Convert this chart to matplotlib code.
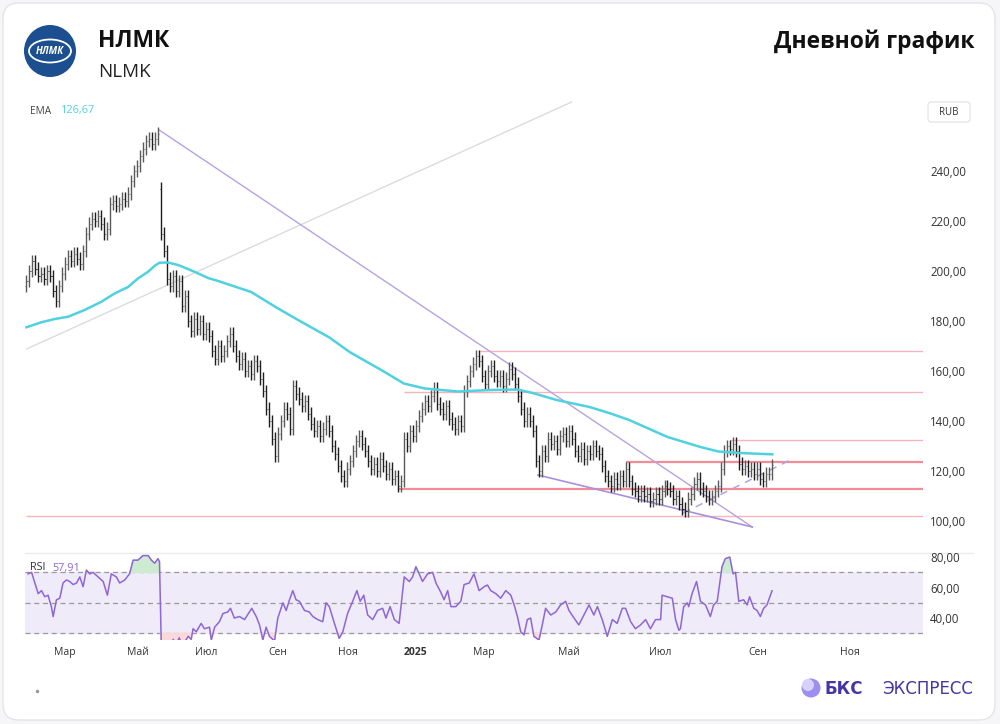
import matplotlib
matplotlib.use("Agg")
import matplotlib.pyplot as plt
import numpy as np
from matplotlib.patches import Circle, Ellipse, FancyBboxPatch

plt.rcParams['font.family'] = ['Open Sans', 'DejaVu Sans']

# --- data (one bar per ~2 trading days) ---
closes = [196, 200, 204, 201, 198, 199, 197, 200, 198, 192, 188, 194,
          199, 203, 206, 204, 207, 205, 203, 208,
          215, 219, 221, 220, 222, 219, 215, 217,
          227, 228, 226, 227, 229, 228, 231,
          236, 240, 242, 246, 249, 252, 253, 251, 253, 255,
          215, 208, 197, 194, 198, 192, 196, 186, 190, 180,
          176, 181, 177, 180, 175, 177, 174, 168, 165, 170,
          166, 168, 172, 175, 170, 166, 163, 165, 160, 162,
          159, 164, 162, 157, 152, 145, 140, 133, 126, 135,
          140, 145, 143, 137, 154, 151, 149, 146, 148, 143,
          139, 136, 138, 134, 137, 140, 136, 130, 127, 122,
          118, 116, 121, 124, 128, 132, 134, 131, 128, 124,
          121, 123, 120, 125, 122, 119, 121, 117, 118, 114,
          116, 133, 130, 136, 134, 138, 142, 145, 148, 146,
          150, 153, 147, 145, 143, 146, 141, 139, 137, 140,
          138, 152, 156, 160, 163, 166, 164, 158, 155, 160,
          162, 158, 156, 158, 154, 157, 161, 159, 155, 150,
          145, 140, 143, 140, 136, 124, 120, 128, 126, 133,
          131, 132, 129, 134, 135, 132, 136, 133, 128, 126,
          129, 125, 128, 127, 130, 128, 127, 122, 118, 116,
          114, 117, 115, 118, 116, 121, 116, 113, 112, 110,
          112, 110, 111, 108, 109, 111, 109, 112, 114, 113,
          112, 109, 110, 107, 105, 104, 109, 111, 115, 117,
          113, 112, 110, 109, 110, 112, 114, 121, 128, 130,
          129, 131, 128, 123, 121, 122, 120, 121, 119, 121,
          117, 116, 119, 119, 122.5]
gap_opens = {45: 233.0}

ema_pos = [0, 5, 9.4, 13.9, 19.4, 25, 29.4, 33.9, 37.2, 40.6, 42.8, 44.4,
           47.2, 50.6, 56.1, 60.6, 64, 75, 84, 92, 101, 108, 119, 126, 133,
           144, 155, 164, 169, 177, 188, 195, 201, 214, 225, 231, 238, 249]
ema_val = [177.5, 179.5, 180.8, 181.7, 184.4, 187.7, 191.0, 193.6, 197.0,
           199.7, 202.1, 203.3, 203.4, 202.4, 199.7, 197.2, 196.0, 191.6,
           185.0, 179.5, 173.5, 167.5, 160.0, 155.0, 153.0, 151.8, 152.4,
           152.6, 151.2, 148.4, 145.6, 143.0, 140.5, 133.6, 129.6, 127.8,
           127.2, 126.67]

rsi_pos = [0.5, 1.7, 2.8, 3.9, 5, 6.1, 7.2, 8.3, 8.9, 10, 11.1, 12.2, 13.3,
           14.4, 15.6, 16.7, 17.8, 18.9, 20, 21.1, 22.2, 23.9, 25.6, 27,
           28.3, 30, 31.1, 32.8, 34.4, 35.6, 37.2, 38.9, 40.6, 41.7, 42.8,
           43.9, 44.4, 45, 46, 47, 48, 49, 50, 51, 52, 53, 54, 55, 55.6,
           56.7, 58.3, 59.4, 61.1, 61.7, 62.8, 64.4, 65.6, 67.2, 68.1, 69.4,
           71.1, 72.8, 74.4, 75.2, 76.7, 77.8, 78.9, 80, 81.1, 82.8, 83.9,
           85.6, 86.7, 87.8, 88.9, 90, 91.1, 92.8, 94.4, 95.6, 97.2, 98.9,
           100, 101.1, 102.8, 104.4, 105.6, 107.2, 108.9, 110.3, 111.4,
           112.6, 113.9, 115.6, 117.2, 118.9, 120, 121.4, 122.8, 124.4,
           126.1, 127.8, 128.9, 130, 131.1, 132.2, 133.9, 135.6, 136.7,
           138.3, 139.4, 140.6, 141.7, 143.3, 145, 146.1, 147.8, 149.4,
           151.1, 152.8, 153.9, 155, 156.7, 158.3, 160, 161.7, 162.8, 163.9,
           165, 166.1, 167.2, 168.3, 169.4, 171.1, 172.2, 173.3, 175, 176.7,
           178.3, 180, 181.1, 182.8, 184.4, 186.1, 187.8, 189.4, 190.6,
           192.2, 193.9, 195.6, 197.2, 198.9, 200, 201.7, 203.3, 205, 206.7,
           208.3, 210, 211.7, 212.2, 213.9, 215.6, 216.7, 217.8, 218.3,
           219.4, 220.6, 221.1, 222.2, 223.7, 225, 226.7, 228.3, 229.4,
           230.6, 232.2, 233.3, 234.8, 235.9, 236.7, 237.8, 239.4, 240.6,
           241.4, 242.8, 243.9, 245, 246.1, 247.2, 248.9]
rsi_val = [69, 70, 63, 56, 58, 54, 55, 47.5, 41, 52, 53, 63, 65,
           64, 62, 63, 67, 60.6, 71.5, 69, 70, 67, 64, 55,
           69, 67, 63, 65, 69, 78, 78, 81, 81, 78, 76,
           79, 77, 22, 20, 24, 21, 26, 23, 27, 22, 25, 28, 26, 33,
           31, 36.5, 33, 34, 25.6, 34, 37.6, 43, 44, 46.4, 40,
           41, 39, 44, 46.4, 41, 35.5, 25.6, 34, 28, 25, 40,
           50, 45, 52, 58, 52, 51, 45, 44, 41, 39, 37.6,
           50, 47.5, 36.5, 26.7, 31, 43, 51, 58, 51,
           55, 42, 39, 45, 46.4, 40, 47.5, 39, 36.5,
           67, 64, 67, 73.7, 69, 64, 69, 70, 63,
           57, 52, 58, 47.5, 47.5, 51, 62, 63, 69,
           58, 60.6, 61.7, 58, 56, 53, 58, 55, 48.6, 41,
           31, 29, 39, 40, 28, 25.6, 35.5, 46.4, 42, 44,
           48.6, 51, 45, 40, 35.5, 42, 48.6, 42, 47.5,
           39, 28, 39, 36.5, 46.4, 46.4, 37.6, 33, 35.5, 39,
           33, 39, 39, 55, 54, 53, 39, 32, 33,
           47.5, 50, 47.5, 56, 64, 51, 48.6, 41, 48.6,
           51, 73.7, 79, 80, 69, 70, 51, 52, 48.6,
           54, 46.4, 45, 41, 46.4, 48.6, 57.91]

month_labels = ['Мар', 'Май', 'Июл', 'Сен', 'Ноя', '2025',
                'Мар', 'Май', 'Июл', 'Сен', 'Ноя']
month_pos = [12.7, 37.3, 60, 84, 107.3, 130, 152.7, 181, 211.7, 244, 275]
price_ticks = [100, 120, 140, 160, 180, 200, 220, 240]
rsi_ticks = [40, 60, 80]

# horizontal levels: price, first bar
level_price = [168.0, 151.6, 132.4, 123.6, 112.8, 102.0]
level_start = [151, 126, 234.7, 200.3, 124.3, 0]
# trend lines: (bar, price) end points
wedge_top = [(44.3, 256.4), (242.3, 97.6)]
wedge_bot = [(170.7, 118.4), (242.3, 97.6)]
support = [(219.3, 103.2), (255, 124.4)]
channel = [(0, 168.8), (182, 267.6)]

# --- figure ---
fig = plt.figure(figsize=(10, 7.24), dpi=100)
fig.patch.set_facecolor('#f6f6f8')
bg = fig.add_axes([0, 0, 1, 1], zorder=0)
bg.set_xlim(0, 1000)
bg.set_ylim(724, 0)
bg.axis('off')
bg.add_patch(FancyBboxPatch((3, 3), 992, 717, boxstyle='round,pad=0,rounding_size=16',
                            fc='white', ec='#e4e4e8', lw=1))

ax = fig.add_axes([0.025, 1 - 553 / 724, 0.898, 453 / 724], zorder=2)
rx = fig.add_axes([0.025, 1 - 640 / 724, 0.898, 87 / 724], zorder=2, sharex=ax)
for a in (ax, rx):
    a.set_facecolor('none')
    for s in a.spines.values():
        s.set_visible(False)

n = len(closes)
idx = np.arange(n)
c = np.array(closes, dtype=float)
o = np.concatenate([[c[0] - 2], c[:-1]])
for k, v in gap_opens.items():
    o[k] = v
wick = 2.5
hi = np.maximum(o, c) + wick
lo = np.minimum(o, c) - wick
bar_col = ['#1e1e1e' if ci < oi else '#5a5a5a' for oi, ci in zip(o, c)]
ax.vlines(idx, lo, hi, colors=bar_col, lw=1.0, zorder=3)
ax.hlines(o, idx - 0.35, idx, colors=bar_col, lw=0.6, zorder=3)
ax.hlines(c, idx, idx + 0.35, colors=bar_col, lw=0.6, zorder=3)

ax.plot(ema_pos, ema_val, color='#4fd1e0', lw=1.8, zorder=4)

for p, s in zip(level_price, level_start):
    thick = p in (123.6, 112.8)
    ax.hlines(p, s, 299.3, color='#f28d98' if thick else '#f7b3ba',
              lw=1.6 if thick else 1.0, zorder=2)

ax.plot(*zip(*channel), color='#dcdce0', lw=1.0, zorder=1)
ax.plot(*zip(*wedge_top), color='#b6a3e0', lw=1.0, zorder=2)
ax.plot(*zip(*wedge_bot), color='#a891dc', lw=1.2, zorder=2)
ax.plot(*zip(*support), color='#b6a3e0', lw=1.1, ls=(0, (5, 4)), zorder=2)

ax.set_xlim(-0.5, 299.3)
ax.set_ylim(87.2, 268.4)
ax.yaxis.tick_right()
ax.set_yticks(price_ticks)
ax.set_yticklabels([f'{t},00' for t in price_ticks])
ax.tick_params(axis='y', length=0, pad=5, labelsize=8.3, labelcolor='#333333')
ax.tick_params(axis='x', length=0, labelbottom=False)

# RSI panel
rx.axhspan(30, 70, color='#efebf8', zorder=0)
for lvl in (30, 50, 70):
    rx.axhline(lvl, color='#9a9a9a', lw=0.9, ls=(0, (4, 3)), zorder=1)
rp = np.array(rsi_pos)
rv = np.array(rsi_val)
rx.fill_between(rp, rv, 70, where=rv > 70, interpolate=True, color='#cdebd0', zorder=1)
rx.fill_between(rp, rv, 30, where=rv < 30, interpolate=True, color='#fbd9d9', zorder=1)
rx.plot(rp, rv, color='#8e66d6', lw=1.1, zorder=3)
rx.set_ylim(25.6, 82.7)
rx.yaxis.tick_right()
rx.set_yticks(rsi_ticks)
rx.set_yticklabels([f'{t},00' for t in rsi_ticks])
rx.tick_params(axis='y', length=0, pad=5, labelsize=8.3, labelcolor='#333333')
rx.set_xticks(month_pos)
rx.set_xticklabels(month_labels)
rx.tick_params(axis='x', length=0, pad=5, labelsize=7.5, labelcolor='#333333')
for lab in rx.get_xticklabels():
    if lab.get_text() == '2025':
        lab.set_fontweight('bold')

# separators and small boxes
bg.plot([25, 973], [553, 553], color='#ececf0', lw=1)
bg.add_patch(FancyBboxPatch((928, 102), 42, 20, boxstyle='round,pad=0,rounding_size=3',
                            fc='white', ec='#e2e2e6', lw=0.8))
bg.text(949, 112.5, 'RUB', ha='center', va='center', fontsize=7, color='#333333')

# header
bg.add_patch(Circle((50, 51), 26, fc='#1b4f8f', ec='none'))
bg.add_patch(Ellipse((50, 51), 42, 23, fill=False, ec='white', lw=1.3))
bg.text(50, 51.5, 'НЛМК', ha='center', va='center', fontsize=7, color='white',
        fontweight='bold', style='italic')
bg.text(98, 41, 'НЛМК', ha='left', va='center', fontsize=16.5, fontweight='bold',
        color='#111111')
bg.text(98, 72, 'NLMK', ha='left', va='center', fontsize=13.5, color='#222222')
bg.text(975, 42, 'Дневной график', ha='right', va='center', fontsize=16.5,
        fontweight='bold', color='#111111')

# indicator labels
bg.text(30, 111, 'EMA', ha='left', va='center', fontsize=7.3, color='#444444')
bg.text(61, 111, '126,67', ha='left', va='center', fontsize=7.8, color='#4fd1e0')
bg.text(30, 568, 'RSI', ha='left', va='center', fontsize=7.8, color='#333333')
bg.text(52, 568, '57,91', ha='left', va='center', fontsize=7.8, color='#8e66d6')

# footer
bg.add_patch(Circle((811, 688), 9.5, fc='#9d8ff0', ec='none'))
bg.add_patch(Circle((808, 685), 6, fc='#d8d2fb', ec='none'))
bg.text(825, 688.5, 'БКС', ha='left', va='center', fontsize=12, fontweight='bold',
        color='#4634a8', family='DejaVu Sans')
bg.text(973, 688.5, 'ЭКСПРЕСС', ha='right', va='center', fontsize=12, color='#4634a8',
        family='DejaVu Sans')
bg.plot([37], [691], marker='o', ms=1.5, color='#999999')

fig.savefig('out.png', dpi=100, facecolor=fig.get_facecolor())
